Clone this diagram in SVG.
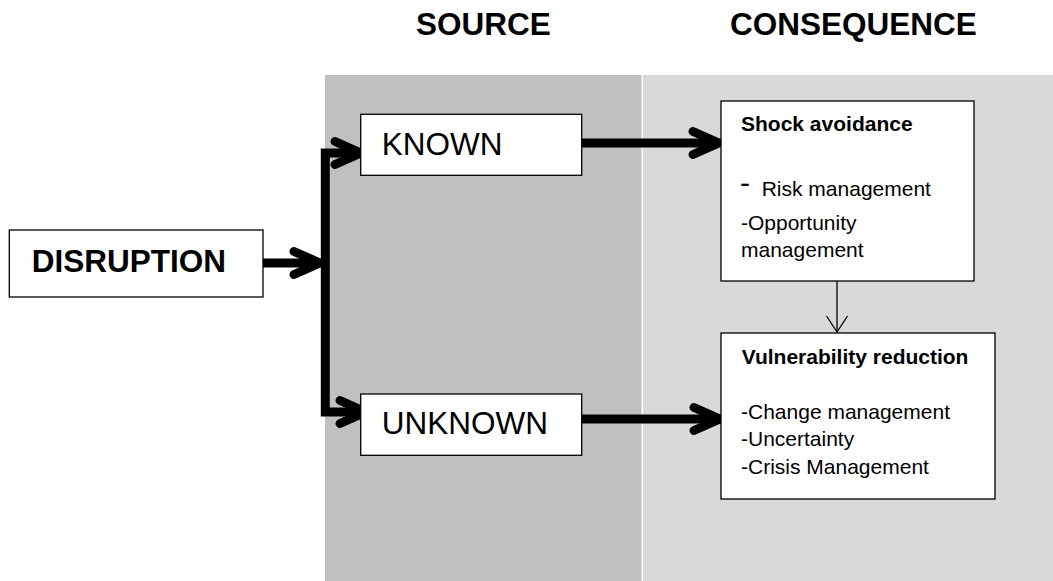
<svg xmlns="http://www.w3.org/2000/svg" width="1053" height="581" viewBox="0 0 1053 581">
<style>
text{font-family:"Liberation Sans",Arial,Helvetica,sans-serif;fill:#000}
.head{font-size:31.5px;font-weight:bold}
.big{font-size:31.5px}
.bold{font-weight:bold}
.body{font-size:21px}
.dash{font-size:30px}
.box{fill:#fff;stroke:#000;stroke-width:1.3}
.thick{fill:none;stroke:#000;stroke-width:9;stroke-linejoin:miter}
.thin{fill:none;stroke:#000;stroke-width:1.3}
</style>
<defs>
<marker id="ah" markerUnits="userSpaceOnUse" viewBox="-32 -18 40 36" refX="-2" refY="0" markerWidth="40" markerHeight="36" orient="auto" overflow="visible">
<path d="M-26,-11.5 L0,0 L-26,11.5" fill="none" stroke="#000" stroke-width="9" stroke-linecap="round" stroke-linejoin="round"/>
</marker>
<marker id="ahthin" markerUnits="userSpaceOnUse" viewBox="-20 -12 22 24" refX="0" refY="0" markerWidth="22" markerHeight="24" orient="auto" overflow="visible">
<path d="M-16,-10.5 L0,0 L-16,10.5" fill="none" stroke="#000" stroke-width="1.3"/>
</marker>
</defs>
<rect width="1053" height="581" fill="#fff"/>
<g id="panels">
<rect x="325" y="75" width="316.5" height="506" fill="#c0c0c0"/>
<rect x="643" y="75" width="410" height="506" fill="#d9d9d9"/>
</g>
<g id="headings">
<text class="head" x="416" y="35">SOURCE</text>
<text class="head" x="730" y="35">CONSEQUENCE</text>
</g>
<g id="connectors">
<path class="thick" d="M263,263 H318" marker-end="url(#ah)"/>
<path class="thick" d="M325.3,263 V153 H359" marker-end="url(#ah)"/>
<path class="thick" d="M325.3,263 V412 H364" marker-end="url(#ah)"/>
<path class="thick" d="M581.7,143 H717" marker-end="url(#ah)"/>
<path class="thick" d="M581.7,419 H718" marker-end="url(#ah)"/>
<path class="thin" d="M837,281 V332" marker-end="url(#ahthin)"/>
</g>
<g id="disruption">
<rect class="box" x="9.3" y="230" width="253.7" height="67"/>
<text class="big bold" x="31.7" y="271.7">DISRUPTION</text>
</g>
<g id="known">
<rect class="box" x="360.7" y="114.3" width="221" height="61"/>
<text class="big" x="381.7" y="155">KNOWN</text>
</g>
<g id="unknown">
<rect class="box" x="360.7" y="394" width="221" height="61.3"/>
<text class="big" x="381.7" y="434.3">UNKNOWN</text>
</g>
<g id="shock-avoidance">
<rect class="box" x="721" y="101" width="253" height="180"/>
<text class="body bold" x="741" y="130.7">Shock avoidance</text>
<text class="dash" x="740" y="193">-</text>
<text class="body" x="761.7" y="196">Risk management</text>
<text class="body" x="741" y="229.5">-Opportunity</text>
<text class="body" x="741" y="256.7">management</text>
</g>
<g id="vulnerability-reduction">
<rect class="box" x="721" y="333" width="274" height="166"/>
<text class="body bold" x="741.7" y="364">Vulnerability reduction</text>
<text class="body" x="741" y="419.3">-Change management</text>
<text class="body" x="741" y="446">-Uncertainty</text>
<text class="body" x="741" y="474">-Crisis Management</text>
</g>
</svg>
